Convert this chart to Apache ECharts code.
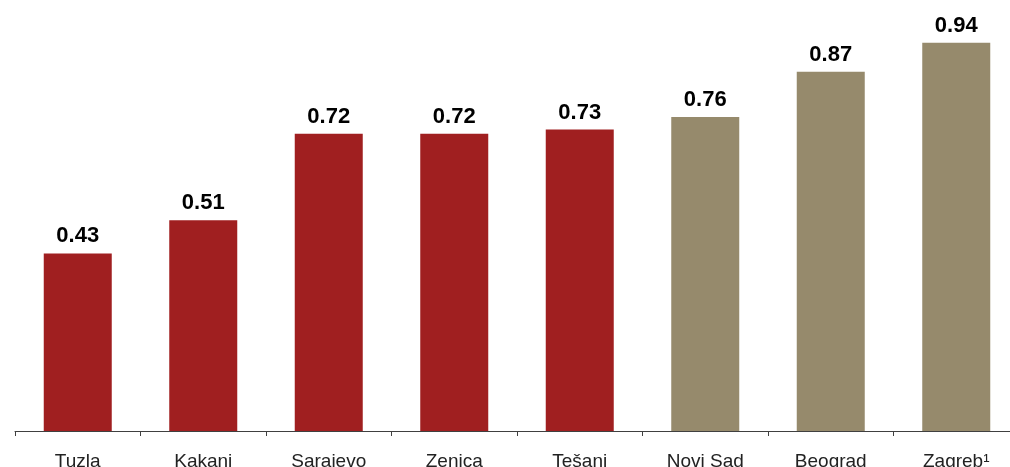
<!DOCTYPE html>
<html><head><meta charset="utf-8">
<script src="https://cdn.jsdelivr.net/npm/echarts@6/dist/echarts.min.js"></script>
<style>html,body{margin:0;padding:0;background:#fff;overflow:hidden}#c{width:1019px;height:467px}</style>
</head><body><div id="c"></div>
<script>
const categories = ['Tuzla','Kakanj','Sarajevo','Zenica','Tešanj','Novi Sad','Beograd','Zagreb¹'];
const values = [0.43,0.51,0.72,0.72,0.73,0.76,0.87,0.94];
const groups = ['bih','bih','bih','bih','bih','other','other','other'];
const colorMap = {bih:'#A01F20', other:'#968A6C'};
const chart = echarts.init(document.getElementById('c'));
chart.setOption({
  animation:false,
  grid:{left:15,right:0,top:18,bottom:36,outerBoundsMode:'none',containLabel:false},
  xAxis:{type:'category',data:categories,boundaryGap:true,
    axisLine:{lineStyle:{color:'#404040',width:1}},
    axisTick:{show:true,length:5,lineStyle:{color:'#404040'}},
    axisLabel:{color:'#222',fontFamily:'Liberation Sans, Arial, sans-serif',fontSize:19,margin:21}},
  yAxis:{type:'value',min:0,max:1,show:false,splitLine:{show:false}},
  series:[{type:'bar',barWidth:68,
    data:values.map((v,i)=>({value:v,itemStyle:{color:colorMap[groups[i]]}})),
    label:{show:true,position:'top',distance:6,color:'#000',fontWeight:'bold',
      fontFamily:'Liberation Sans, Arial, sans-serif',fontSize:22,formatter:p=>p.value.toFixed(2)}}]
});
</script></body></html>
